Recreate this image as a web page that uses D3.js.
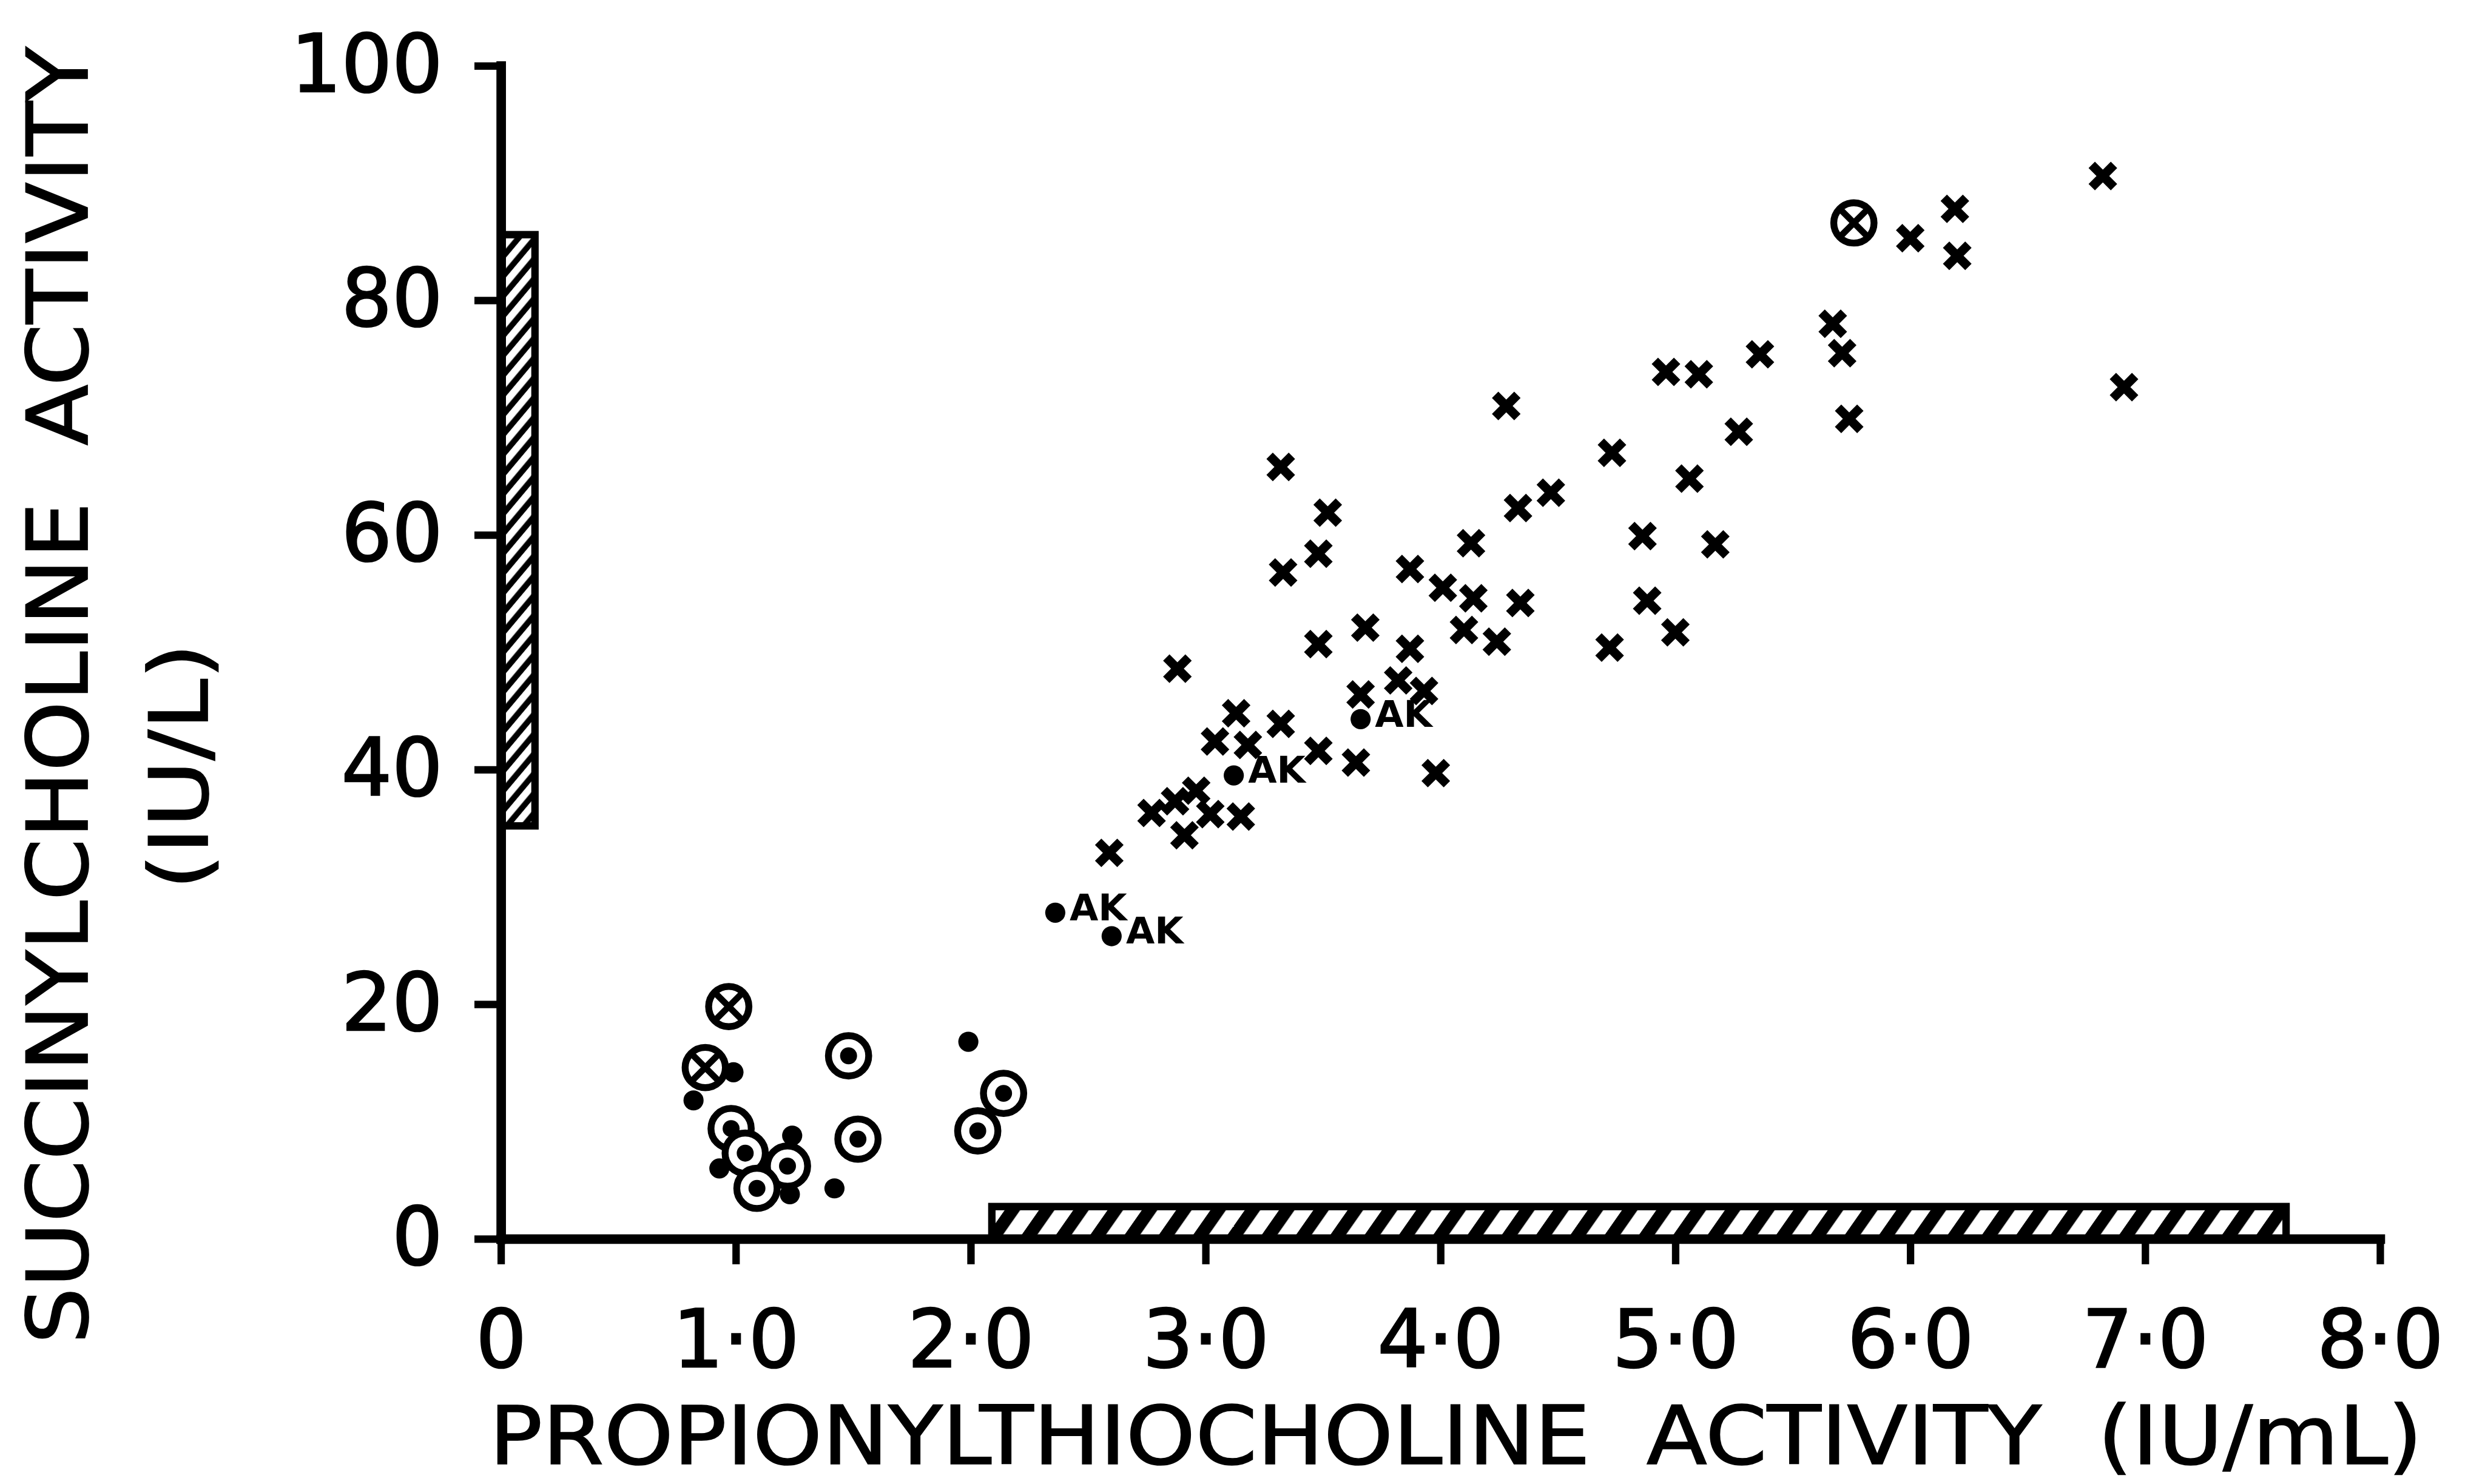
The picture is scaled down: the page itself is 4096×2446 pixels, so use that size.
<!DOCTYPE html>
<html>
<head>
<meta charset="utf-8">
<script src="https://cdn.jsdelivr.net/npm/d3@7/dist/d3.min.js"></script>
<style>
  body { margin: 0; background: #fff; }
  text { font-family: "DejaVu Sans", sans-serif; fill: #000; }
</style>
</head>
<body>
<div id="chart"></div>
<script>
// values
const xTicks = [0, 1, 2, 3, 4, 5, 6, 7, 8];
const xTickLabels = ['0', '1·0', '2·0', '3·0', '4·0', '5·0', '6·0', '7·0', '8·0'];
const yTicks = [0, 20, 40, 60, 80, 100];
const yTickLabels = ['0', '20', '40', '60', '80', '100'];

// usual-type cases (x marks)
const crossPts = [
  [6.82, 90.6], [6.19, 87.8], [6.00, 85.3], [6.20, 83.8], [5.67, 78.0],
  [5.36, 75.4], [5.71, 75.5], [4.96, 73.9], [5.10, 73.7], [6.91, 72.6],
  [4.28, 71.0], [5.74, 69.9], [5.27, 68.8], [4.73, 67.0], [3.32, 65.8],
  [5.06, 64.8], [4.47, 63.6], [4.33, 62.3], [3.52, 61.9], [4.86, 59.9],
  [5.17, 59.2], [4.13, 59.3], [3.48, 58.4], [3.33, 56.8], [3.87, 57.1],
  [4.01, 55.5], [4.14, 54.6], [4.34, 54.2], [4.88, 54.4], [3.68, 52.1],
  [4.10, 51.9], [4.24, 50.9], [5.00, 51.7], [3.48, 50.7], [3.87, 50.3],
  [4.72, 50.4], [2.88, 48.6], [3.82, 47.6], [3.93, 46.7], [3.66, 46.4],
  [3.13, 44.8], [3.32, 43.9], [3.04, 42.4], [3.18, 42.1], [3.48, 41.6],
  [3.64, 40.6], [3.98, 39.7], [2.77, 36.3], [2.87, 37.3], [2.96, 38.2],
  [3.02, 36.2], [3.15, 36.0], [2.91, 34.4], [2.59, 32.9]
];
// circled x
const circledCrossPts = [[5.76, 86.6], [0.97, 19.8], [0.87, 14.6]];
// circled dots
const circledDotPts = [
  [1.48, 15.6], [2.14, 12.4], [2.03, 9.2], [1.52, 8.5], [0.98, 9.4],
  [1.04, 7.3], [1.22, 6.2], [1.09, 4.3]
];
// plain dots
const dotPts = [
  [0.99, 14.2], [0.82, 11.8], [1.99, 16.8], [1.24, 8.8], [0.93, 6.0],
  [1.23, 3.8], [1.42, 4.3]
];
// dots labelled AK
const akDotPts = [[3.66, 44.3], [3.12, 39.5], [2.36, 27.8], [2.60, 25.8]];
const akLabel = 'AK';

// hatched normal ranges: [x0, x1, y0, y1]
const rangeBars = [[0, 0.145, 35.2, 85.6], [2.09, 7.60, 0, 2.75]];

const xTitle = 'PROPIONYLTHIOCHOLINE  ACTIVITY  (IU/mL)';
const yTitle = 'SUCCINYLCHOLINE  ACTIVITY';
const yUnit = '(IU/L)';

// drawing: laid out in reference pixels, then scaled to the window
const W = 4096, H = 2446, S = W / 4688;

const svg = d3.select('#chart').append('svg')
    .attr('width', W)
    .attr('height', H);

const defs = svg.append('defs');
// stripes along the short side, rising to the right
defs.append('pattern')
    .attr('id', 'hatchV')
    .attr('patternUnits', 'userSpaceOnUse')
    .attr('width', 24).attr('height', 24)
    .attr('patternTransform', 'rotate(40)')
  .append('line')
    .attr('x1', 6).attr('y1', 0).attr('x2', 6).attr('y2', 24)
    .attr('stroke', '#000').attr('stroke-width', 11);
defs.append('pattern')
    .attr('id', 'hatchH')
    .attr('patternUnits', 'userSpaceOnUse')
    .attr('width', 53).attr('height', 53)
    .attr('patternTransform', 'rotate(35)')
  .append('line')
    .attr('x1', 12).attr('y1', 0).attr('x2', 12).attr('y2', 53)
    .attr('stroke', '#000').attr('stroke-width', 24);

const g = svg.append('g').attr('transform', `scale(${S})`);

const x = d3.scaleLinear().domain([0, 8]).range([945, 4490]);
const y = d3.scaleLinear().domain([0, 100]).range([2337, 124]);

//range bars
g.selectAll('.rangeBar').data(rangeBars).join('rect')
    .attr('class', 'rangeBar')
    .attr('x', d => x(d[0]))
    .attr('y', d => y(d[3]))
    .attr('width', d => x(d[1]) - x(d[0]))
    .attr('height', d => y(d[2]) - y(d[3]))
    .attr('fill', d => (x(d[1]) - x(d[0])) < (y(d[2]) - y(d[3])) ? 'url(#hatchV)' : 'url(#hatchH)')
    .attr('stroke', '#000')
    .attr('stroke-width', 14);

//axes
const xAxis = d3.axisBottom(x)
    .tickValues(xTicks)
    .tickFormat((d, i) => xTickLabels[i])
    .tickSize(48)
    .tickSizeOuter(0)
    .tickPadding(87);
const yAxis = d3.axisLeft(y)
    .tickValues(yTicks)
    .tickFormat((d, i) => yTickLabels[i])
    .tickSize(50)
    .tickSizeOuter(0)
    .tickPadding(60);

const gx = g.append('g').attr('transform', `translate(0,${y(0)})`).call(xAxis);
const gy = g.append('g').attr('transform', `translate(${x(0)},0)`).call(yAxis);

[gx, gy].forEach(a => {
    a.attr('font-family', null).attr('font-size', 150);
    a.select('.domain').attr('stroke-width', 18).attr('stroke-linecap', 'square');
    a.selectAll('.tick line').attr('stroke-width', 14);
    a.selectAll('.tick text').attr('fill', '#000')
        .attr('stroke', '#000').attr('stroke-width', 3);
});

//markers
const xMark = {
    draw(ctx, size){
        let r = Math.sqrt(size) / 2;
        ctx.moveTo(-r, -r); ctx.lineTo(r, r);
        ctx.moveTo(-r, r); ctx.lineTo(r, -r);
    }
};

g.selectAll('.circledDot').data(circledDotPts).join('g')
    .attr('class', 'circledDot')
    .attr('transform', d => `translate(${x(d[0])},${y(d[1])})`)
    .each(function(){
        let m = d3.select(this);
        m.append('circle').attr('r', 38).attr('fill', '#fff').attr('stroke', '#000').attr('stroke-width', 13);
        m.append('circle').attr('r', 16).attr('fill', '#000');
    });

g.selectAll('.circledCross').data(circledCrossPts).join('g')
    .attr('class', 'circledCross')
    .attr('transform', d => `translate(${x(d[0])},${y(d[1])})`)
    .each(function(){
        let m = d3.select(this);
        m.append('circle').attr('r', 38).attr('fill', '#fff').attr('stroke', '#000').attr('stroke-width', 13);
        m.append('path').attr('d', d3.symbol(xMark, 54 * 54)).attr('stroke', '#000').attr('stroke-width', 12);
    });

g.selectAll('.dot').data(dotPts.concat(akDotPts)).join('circle')
    .attr('class', 'dot')
    .attr('cx', d => x(d[0]))
    .attr('cy', d => y(d[1]))
    .attr('r', 19)
    .attr('fill', '#000');

g.selectAll('.akLabel').data(akDotPts).join('text')
    .attr('class', 'akLabel')
    .attr('x', d => x(d[0]) + 27)
    .attr('y', d => y(d[1]) + 14)
    .attr('font-size', 70)
    .attr('font-weight', 'bold')
    .text(akLabel);

g.selectAll('.cross').data(crossPts).join('path')
    .attr('class', 'cross')
    .attr('transform', d => `translate(${x(d[0])},${y(d[1])})`)
    .attr('d', d3.symbol(xMark, 42 * 42))
    .attr('fill', 'none')
    .attr('stroke', '#000')
    .attr('stroke-width', 17);

//titles
g.append('text')
    .attr('x', 923)
    .attr('y', 2762)
    .attr('font-size', 154)
    .attr('textLength', 3647)
    .attr('lengthAdjust', 'spacingAndGlyphs')
    .attr('stroke', '#000').attr('stroke-width', 2)
    .style('white-space', 'pre')
    .text(xTitle);

g.append('text')
    .attr('transform', 'translate(165,1312) rotate(-90)')
    .attr('text-anchor', 'middle')
    .attr('font-size', 160)
    .attr('textLength', 2447)
    .attr('lengthAdjust', 'spacingAndGlyphs')
    .attr('stroke', '#000').attr('stroke-width', 2)
    .style('white-space', 'pre')
    .text(yTitle);

g.append('text')
    .attr('transform', 'translate(392,1446) rotate(-90)')
    .attr('text-anchor', 'middle')
    .attr('font-size', 152)
    .attr('textLength', 465)
    .attr('lengthAdjust', 'spacingAndGlyphs')
    .attr('stroke', '#000').attr('stroke-width', 2)
    .text(yUnit);
</script>
</body>
</html>
